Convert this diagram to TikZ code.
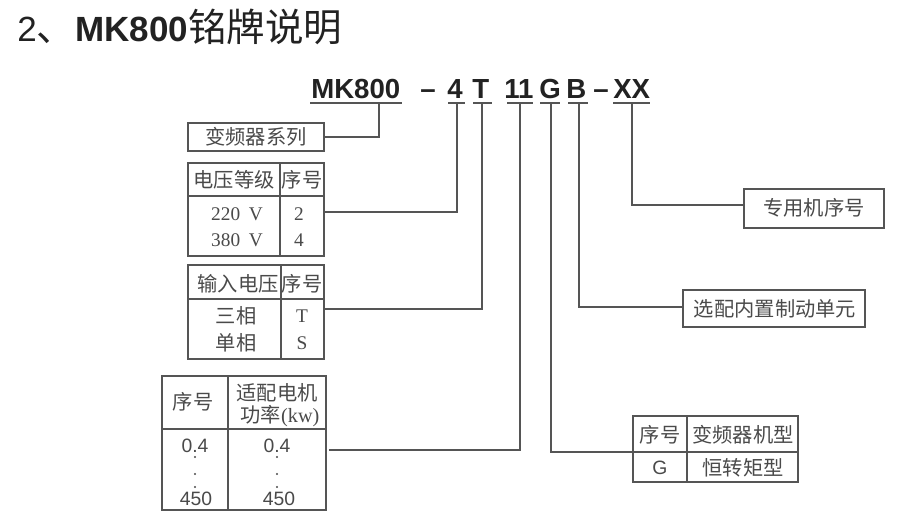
\documentclass[tikz,border=0pt]{standalone}
\usepackage{fontspec}
\setmainfont{Liberation Serif}
\newfontfamily\cjk{Noto Sans CJK SC}
\newfontfamily\arial{Liberation Sans}
\usetikzlibrary{fit}
\definecolor{linec}{HTML}{555555}
\definecolor{txtc}{HTML}{4A4A4A}
\definecolor{titlec}{HTML}{222222}
\begin{document}
\begin{tikzpicture}[x=0.75pt,y=-0.75pt,
  frame/.style={draw=linec, line width=1.1pt, inner sep=0pt, outer sep=0pt},
  conn/.style={draw=linec, line width=1.1pt},
  ul/.style={draw=linec, line width=1.3pt},
  code/.style={font=\arial\bfseries\fontsize{20.7}{24}\selectfont, text=titlec, anchor=base west, inner sep=0pt},
  lbl/.style={font=\cjk\fontsize{15.2}{18}\selectfont, text=txtc, inner sep=0pt},
  num/.style={font=\fontsize{14.5}{18}\selectfont, text=txtc, inner sep=0pt},
  sans/.style={font=\arial\fontsize{14.5}{18}\selectfont, text=txtc, inner sep=0pt},
  dotc/.style={fill=txtc},
]
\useasboundingbox (0,0) rectangle (903,529);
\fill[white] (0,0) rectangle (903,529);

% title
\node[anchor=base west, inner sep=0pt, text=titlec] (title) at (17,41)
  {\arial\fontsize{26.25}{30}\selectfont 2{\cjk\fontsize{28.9}{30}\selectfont 、}{\bfseries MK800}{\cjk\fontsize{28.9}{30}\selectfont 铭牌说明}};

% code line
\node[code] (cMK) at (311,98) {MK800};
\node[code] (cD1) at (420,98) {–};
\node[code] (c4)  at (447,98) {4};
\node[code] (cT)  at (472,98) {T};
\node[code] (c11) at (504,98) {11};
\node[code] (cG)  at (539,98) {G};
\node[code] (cB)  at (566,98) {B};
\node[code] (cD2) at (593,98) {–};
\node[code] (cXX) at (613,98) {XX};

% underlines
\draw[ul] (310,103) -- (402,103);
\draw[ul] (448,103) -- (465,103);
\draw[ul] (473,103) -- (492,103);
\draw[ul] (507,103) -- (533,103);
\draw[ul] (540,103) -- (560,103);
\draw[ul] (568,103) -- (588,103);
\draw[ul] (613,103) -- (650,103);

% boxes
\node[frame, fit={(188,123) (324,151)}] (b1) {};
\node[lbl] (b1t) at (b1.center) {变频器系列};

\node[frame, fit={(744,189) (884,228)}] (bx) {};
\node[lbl] (bxt) at (814,207.5) {专用机序号};

\node[frame, fit={(683,290) (865,327)}] (bb) {};
\node[lbl] (bbt) at (775,309) {选配内置制动单元};

% voltage table
\node[frame, fit={(188,163) (324,256)}] (tv) {};
\draw[conn] (280,163) -- (280,256);
\draw[conn] (188,196) -- (324,196);
\node[lbl] (tvh1) at (234,180) {电压等级};
\node[lbl] (tvh2) at (302,180) {序号};
\node[num] (tv1) at (237,214) {220\hspace{0.45em}V};
\node[num] (tv2) at (237,240) {380\hspace{0.45em}V};
\node[num] (tv3) at (299,214) {2};
\node[num] (tv4) at (299,240) {4};

% input table
\node[frame, fit={(188,265) (324,359)}] (ti) {};
\draw[conn] (281,265) -- (281,359);
\draw[conn] (188,299) -- (324,299);
\node[lbl] (tih1) at (238,284) {输入电压};
\node[lbl] (tih2) at (302,284) {序号};
\node[lbl] (ti1) at (236,316) {三相};
\node[lbl] (ti2) at (236,343) {单相};
\node[num] (ti3) at (302,316) {T};
\node[num] (ti4) at (302,343) {S};

% motor table
\node[frame, fit={(162,376) (326,510)}] (tm) {};
\draw[conn] (228,376) -- (228,510);
\draw[conn] (162,429) -- (326,429);
\node[lbl] (tmh1) at (193,402) {序号};
\node[lbl] (tmh2) at (277,393) {适配电机};
\node[lbl] (tmh3) at (280,416) {功率\fontspec{Liberation Serif}(kw)};
\node[sans] (tm1) at (195,446) {0.4};
\node[sans] (tm2) at (277,446) {0.4};
\node[sans] (tm3) at (196,499) {450};
\node[sans] (tm4) at (279,499) {450};
\foreach \yy in {457,474,487} {
  \fill[dotc] (195,\yy) circle (1.1);
  \fill[dotc] (277,\yy) circle (1.1);
}

% type table
\node[frame, fit={(633,416) (798,482)}] (tg) {};
\draw[conn] (687,416) -- (687,482);
\draw[conn] (633,452) -- (798,452);
\node[lbl] (tgh1) at (660,435) {序号};
\node[lbl] (tgh2) at (743,435) {变频器机型};
\node[sans] (tg1) at (660,468) {G};
\node[lbl] (tg2) at (743,468) {恒转矩型};

% connector coordinates
\coordinate (jMK) at (379,103);
\coordinate (j4)  at (457,103);
\coordinate (jT)  at (482,103);
\coordinate (j11) at (520,103);
\coordinate (jG)  at (551,103);
\coordinate (jB)  at (579,103);
\coordinate (jX)  at (632,103);
\coordinate (e4)  at (324,212);
\coordinate (eT)  at (324,309);
\coordinate (e11) at (329,450);
\coordinate (eG)  at (633,452);
\coordinate (eB)  at (683,307);
\coordinate (eX)  at (744,205);

\draw[conn] (jMK) |- (b1.east);
\draw[conn] (j4)  |- (e4);
\draw[conn] (jT)  |- (eT);
\draw[conn] (j11) |- (e11);
\draw[conn] (jG)  |- (eG);
\draw[conn] (jB)  |- (eB);
\draw[conn] (jX)  |- (eX);
\end{tikzpicture}
\end{document}
